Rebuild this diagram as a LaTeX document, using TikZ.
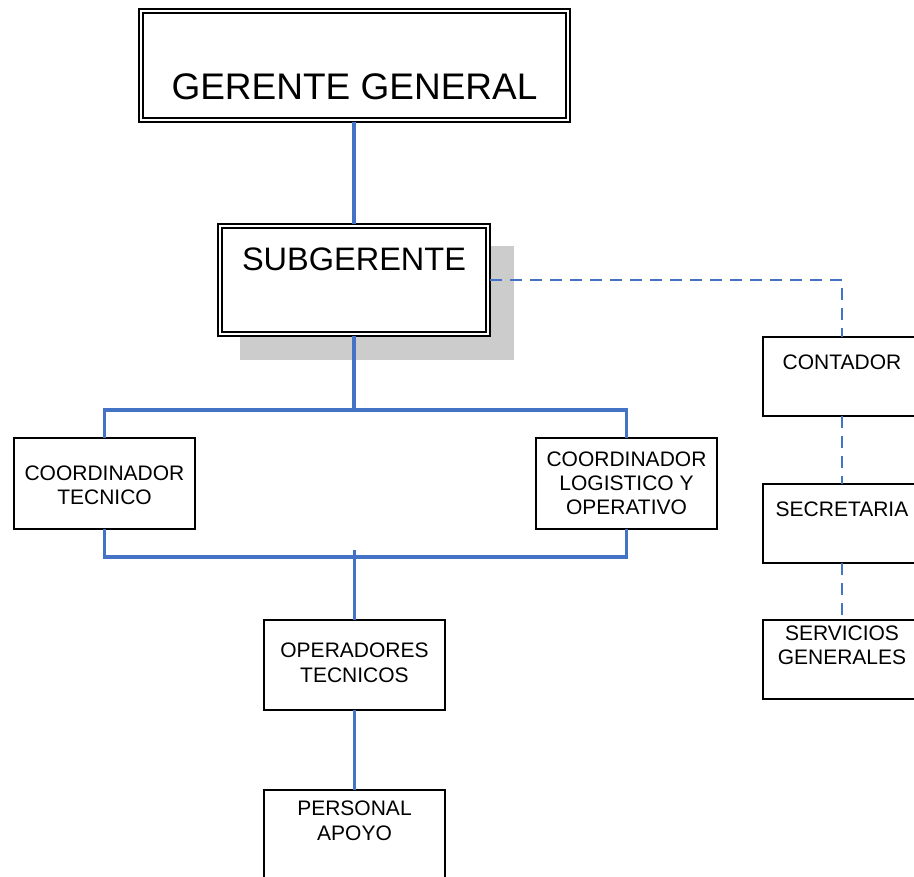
\documentclass[tikz,border=0pt]{standalone}
\usepackage{fontspec}
\setmainfont{Liberation Sans}
\definecolor{lineblue}{HTML}{4472C4}
\definecolor{shadowgray}{HTML}{CCCCCC}
\begin{document}
\begin{tikzpicture}[x=1pt,y=-1pt,
  box/.style={draw=black, line width=1.4pt, fill=white, inner sep=0pt, outer sep=0pt, anchor=north west},
  innerbox/.style={draw=black, line width=1.4pt, inner sep=0pt, outer sep=0pt, anchor=north west},
  txt/.style={inner sep=0pt, anchor=north, align=center, font=\fontsize{21}{24}\selectfont},
  solidblue/.style={draw=lineblue, line width=3.2pt},
  dashblue/.style={draw=lineblue, line width=1.9pt, dash pattern=on 12pt off 8pt}]
\useasboundingbox (0,0) rectangle (914,877);
\clip (0,0) rectangle (914,877);
\fill[white] (0,0) rectangle (914,877);

% Gerente general
\node[box, minimum width=431pt, minimum height=113pt] (gg) at (139,9) {};
\node[innerbox, minimum width=423pt, minimum height=105pt] (ggi) at (143,13) {};
\node[txt, font=\fontsize{37}{44}\selectfont] (ggt) at (354.5,73) {GERENTE GENERAL};

% Subgerente with shadow
\fill[shadowgray] (240,246) rectangle (514,360);
\node[box, minimum width=272pt, minimum height=112pt] (sub) at (218,224) {};
\node[innerbox, minimum width=264pt, minimum height=104pt] (subi) at (222,228) {};
\node[txt, font=\fontsize{32.5}{38}\selectfont] (subt) at (354,247.5) {SUBGERENTE};

% Coordinators
\node[box, minimum width=181pt, minimum height=91pt] (ct) at (14,438) {};
\node[txt] (ctt) at (104.5,465.5) {COORDINADOR\\TECNICO};
\node[box, minimum width=181pt, minimum height=91pt] (cl) at (536,438) {};
\node[txt] (clt) at (626.5,452) {COORDINADOR\\LOGISTICO Y\\OPERATIVO};

% Operadores / personal
\node[box, minimum width=181pt, minimum height=90pt] (op) at (264,620) {};
\node[txt, font=\fontsize{21}{25}\selectfont] (opt) at (354.5,643) {OPERADORES\\TECNICOS};
\node[box, minimum width=181pt, minimum height=120pt] (pa) at (264,790) {};
\node[txt, font=\fontsize{21}{25}\selectfont] (pat) at (354.5,800.5) {PERSONAL\\APOYO};

% Right column
\node[box, minimum width=158pt, minimum height=79pt] (cont) at (763,337) {};
\node[txt] (contt) at (842,354.5) {CONTADOR};
\node[box, minimum width=158pt, minimum height=79pt] (sec) at (763,484) {};
\node[txt] (sect) at (842,501.5) {SECRETARIA};
\node[box, minimum width=158pt, minimum height=79pt] (sg) at (763,620) {};
\node[txt] (sgt) at (842,625.5) {SERVICIOS\\GENERALES};

% Solid connectors
\coordinate (j1) at (354,410);
\coordinate (j2) at (354,557);
\coordinate (j2t) at (354,550);
\draw[solidblue] (gg.south -| sub.north) -- (sub.north);
\draw[solidblue] (sub.south) -- (sub.south |- j1);
\draw[solidblue] (ct.north) -- (ct.north |- j1) -- (cl.north |- j1) -- (cl.north);
\draw[solidblue] (ct.south) -- (ct.south |- j2) -- (cl.south |- j2) -- (cl.south);
\draw[solidblue] (op.north |- j2t) -- (op.north);
\draw[solidblue] (op.south) -- (pa.north);

% Dashed connectors
\draw[dashblue] (sub.east) -| (cont.north);
\draw[dashblue] (cont.south) -- (sec.north);
\draw[dashblue] (sec.south) -- (sg.north);
\end{tikzpicture}
\end{document}
